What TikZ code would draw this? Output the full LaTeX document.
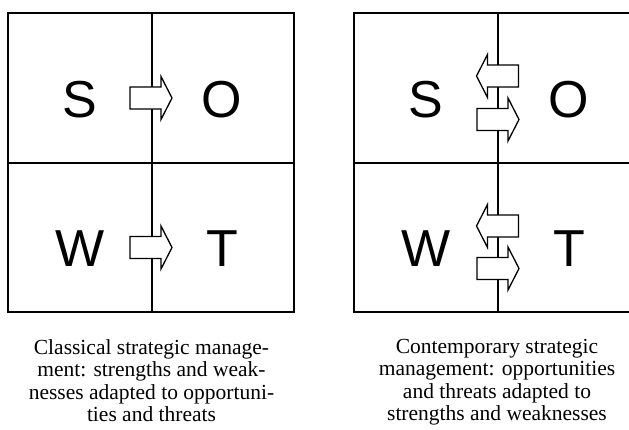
\documentclass[tikz,border=0pt]{standalone}
\usepackage{fontspec}
\setmainfont{Liberation Serif}
\newfontfamily\letterfont{Liberation Sans}
\usepackage{tikz}
\usetikzlibrary{calc}

\begin{document}
\begin{tikzpicture}[x=1pt,y=-1pt,line width=1.3pt,
    letter/.style={font=\letterfont\fontsize{52}{52}\selectfont,anchor=base,inner sep=0pt},
    caption/.style={font=\fontsize{21.5}{22.5}\selectfont,align=center,anchor=north,inner sep=0pt},
    blockarrow/.pic={\filldraw[fill=white,line width=1.3pt] (0,-11)--(31,-11)--(31,-21.5)--(42,0)--(31,21.5)--(31,11)--(0,11)--cycle;}]
            \useasboundingbox (0,0) rectangle (629,429);
            \clip (0,0) rectangle (629,429);

            % classical
            \coordinate (ca) at (8,13);
            \coordinate (cb) at (294,312);
            \coordinate (cm) at (152,163);
            \draw (ca) rectangle (cb);
            \draw (ca|-cm)--(cb|-cm);
            \draw (cm|-ca)--(cm|-cb);

            % contemporary
            \coordinate (na) at (354,13);
            \coordinate (nb) at (641,312);
            \coordinate (nm) at (498,163);
            \draw (na) rectangle (nb);
            \draw (na|-nm)--(nb|-nm);
            \draw (nm|-na)--(nm|-nb);

            \node[letter] (cs) at (80,117) {S};
            \node[letter] (co) at (222,117) {O};
            \node[letter] (cw) at (80,266.5) {W};
            \node[letter] (ct) at (222,266.5) {T};

            \node[letter] (ns) at (426,117) {S};
            \node[letter] (no) at (568.5,117) {O};
            \node[letter] (nw) at (426,266.5) {W};
            \node[letter] (nt) at (569,266.5) {T};

            \pic at (130,98) {blockarrow};
            \pic at (130,247.5) {blockarrow};

            \pic[rotate=180] at (518.5,76) {blockarrow};
            \pic at (477,119.5) {blockarrow};
            \pic[rotate=180] at (518.5,226) {blockarrow};
            \pic at (477,268.5) {blockarrow};

            \node[caption] (cc) at (151.5,338.5) {Classical strategic manage-\\ment: strengths and weak-\\nesses adapted to opportuni-\\ties and threats};
            \node[caption] (nc) at (497,338.5) {Contemporary strategic\\management: opportunities\\and threats adapted to\\strengths and weaknesses};
        \end{tikzpicture}
\end{document}
